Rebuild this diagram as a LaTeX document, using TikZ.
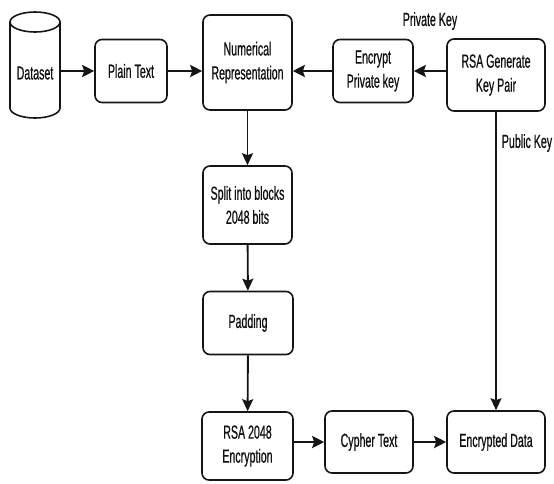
\documentclass[tikz,border=0pt]{standalone}
\usepackage{fontspec}
\setmainfont[FakeStretch=0.56,FakeBold=0.6]{Liberation Sans}
\usepackage{xcolor}
\usepackage{tikz}
\usetikzlibrary{positioning,calc,arrows.meta}
\definecolor{CLine}{HTML}{151515}
\definecolor{CText}{HTML}{101010}

\begin{document}
\begin{tikzpicture}[x=1pt,y=-1pt,
  every node/.style={align=center, font=\fontsize{19}{24}\selectfont, text=CText},
  procbox/.style={draw=CLine, line width=1.6pt, rounded corners=7pt, inner sep=0pt},
  flow/.style={draw=CLine, line width=2.8pt, -{Stealth[length=12pt,width=12pt,inset=2pt]}},
  vflow/.style={draw=CLine, line width=1.9pt, -{Stealth[length=12pt,width=11pt,inset=2pt]}},
  keyline/.style={draw=CLine, line width=1.5pt, -{Stealth[length=12pt,width=11pt,inset=2pt]}}]
  \useasboundingbox (0,0) rectangle (554,483);
  % process boxes: name / centre / size / text
  \foreach \nm/\cx/\cy/\w/\h/\txt in {%
    plain/131/71/72/63/{Plain Text},
    num/247.5/62.5/89/95/{Numerical\\Representation},
    encpriv/373/71/80/63/{Encrypt\\Private key},
    rsagen/496/75/98/72/{RSA Generate\\Key Pair},
    split/247.5/205/89/78/{Split into blocks\\2048 bits},
    pad/248/323/90/63/{Padding},
    rsaenc/247.5/446/91/68/{RSA 2048\\Encryption},
    cypher/369/442/88/62/{Cypher Text},
    encdata/496/442/98/62/{Encrypted Data}}{
    \node[procbox, minimum width=\w pt, minimum height=\h pt] (\nm) at (\cx,\cy) {\txt};
  }
  \node[minimum width=50pt, minimum height=96pt, inner sep=0pt] (data) at (35,73) {Dataset};
  \draw[CLine, line width=1.6pt] (35,22) ellipse [x radius=25pt, y radius=10pt];
  \draw[CLine, line width=1.6pt] (10,22) -- (10,108) arc[start angle=180, end angle=360, x radius=25pt, y radius=10pt] -- (60,22);
  \node (privlbl) at (430,21) {Private Key};
  \node (publbl) at (527,143) {Public Key};
  \draw[flow] (data.east |- plain) -- (plain.west);
  \draw[flow] (plain.east) -- (plain.east -| num.west);
  \draw[flow] (rsagen.west |- encpriv) -- (encpriv.east);
  \draw[flow] (encpriv.west) -- (encpriv.west -| num.east);
  \draw[vflow] (num) -- (split);
  \draw[vflow] (split) -- (pad);
  \draw[vflow] (pad) -- (rsaenc);
  \draw[flow] (rsaenc.east |- cypher) -- (cypher.west);
  \draw[flow] (cypher) -- (encdata);
  \draw[keyline] (rsagen) -- (encdata);
\end{tikzpicture}
\end{document}
